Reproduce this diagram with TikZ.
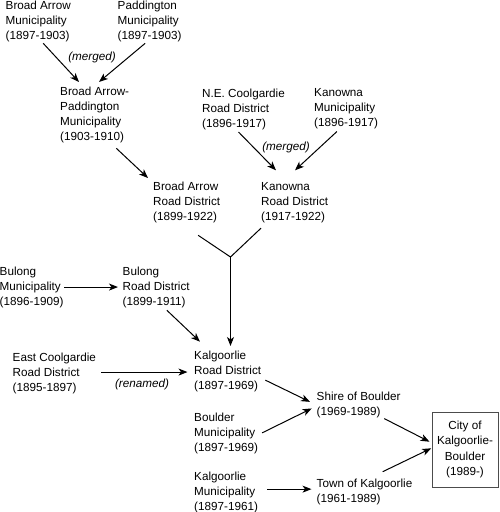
\documentclass[tikz,border=0pt]{standalone}
\usepackage{fontspec}
\setmainfont{Liberation Sans}
\usetikzlibrary{arrows.meta}
\tikzset{
  body/.style = {anchor = north west, align = left, inner sep = 0pt,
                 font = \fontsize{11.7}{15}\selectfont},
  note/.style = {inner sep = 0pt, font = \fontsize{11.7}{15}\selectfont\itshape},
  arr/.style  = {-{Stealth[length = 9pt, width = 7pt, inset = 2.5pt]}, line width = 1pt},
}

\begin{document}
\begin{tikzpicture}[x = 1pt, y = -1pt]
  \useasboundingbox (0,0) rectangle (499,512);
  % bodies
  \foreach \id/\x/\y/\txt in {
    bam/5.5/0.7/Broad Arrow\\Municipality\\(1897-1903),
    pad/117.5/0.7/Paddington\\Municipality\\(1897-1903),
    bap/60/86.7/Broad Arrow-\\Paddington\\Municipality\\(1903-1910),
    necrd/202/88.7/N.E. Coolgardie\\Road District\\(1896-1917),
    kanm/314/88.7/Kanowna\\Municipality\\(1896-1917),
    bard/153/181.7/Broad Arrow\\Road District\\(1899-1922),
    krd/261/182/Kanowna\\Road District\\(1917-1922),
    bulm/-0.5/266.4/Bulong\\Municipality\\(1896-1909),
    bulrd/122.5/266.4/Bulong\\Road District\\(1899-1911),
    ecrd/12.5/352.4/East Coolgardie\\Road District\\(1895-1897),
    krd2/194/350.7/Kalgoorlie\\Road District\\(1897-1969),
    shire/316.5/391.7/Shire of Boulder\\(1969-1989),
    boum/194/412.7/Boulder\\Municipality\\(1897-1969),
    kalm/194/471.7/Kalgoorlie\\Municipality\\(1897-1961),
    town/316.5/478.4/Town of Kalgoorlie\\(1961-1989)} {
    \node [body] (\id) at (\x,\y) {\txt};
  }
  \node [draw = black!70, line width = 1pt, minimum width = 66pt, minimum height = 75pt,
         align = center, inner sep = 0pt, font = \fontsize{11.7}{15.3}\selectfont]
        (city) at (465,449.5) {City of\\Kalgoorlie-\\Boulder\\(1989-)};

  % notes
  \node [note] (merge1) at (92,57) {(merged)};
  \node [note] (merge2) at (286,147) {(merged)};
  \node [note] (ren) at (142,384) {(renamed)};

  % links
  \draw [arr] ([xshift = 5pt, yshift = -1.3pt] bam.south) -- ([xshift = 19pt, yshift = 4.7pt] bap.north west);
  \draw [arr] ([xshift = -4.4pt, yshift = -1.3pt] pad.south) -- ([xshift = 39pt, yshift = 4.7pt] bap.north west);
  \draw [arr] ([xshift = -13pt, yshift = -5.3pt] bap.south east) -- ([xshift = -5pt, yshift = 3.7pt] bard.north west);
  \draw [arr] ([xshift = -5pt, yshift = -2pt] necrd.south) -- ([xshift = 15pt, yshift = 11.7pt] krd.north west);
  \draw [arr] ([xshift = -9.2pt, yshift = -2pt] kanm.south) -- ([xshift = 34pt, yshift = 11.7pt] krd.north west);

  \coordinate (join) at (230.5,257);
  \draw [line width = 1pt] ([xshift = 11.5pt, yshift = -12.3pt] bard.south) -- (join)
    -- ([yshift = -5.3pt] krd.south west);
  \draw [arr] (join) -- ([yshift = 4.7pt] join |- krd2.north);

  \draw [arr] ([xshift = 0.5pt] bulm.east) -- ([xshift = -4.5pt] bulm.east -| bulrd.west);
  \draw [arr] ([xshift = 10.7pt, yshift = -2.6pt] bulrd.south) -- ([xshift = 6pt, yshift = 9pt] krd2.north west);
  \draw [arr] ([xshift = 5pt, yshift = 1pt] ecrd.east) -- ([xshift = -6.5pt, yshift = 1pt] ecrd.east -| krd2.west);

  \draw [arr] ([xshift = 4pt, yshift = -8.8pt] krd2.east) -- ([xshift = -6.5pt, yshift = 3pt] shire.west);
  \draw [arr] ([xshift = 4pt, yshift = 0.5pt] boum.east) -- ([xshift = -4.8pt, yshift = -3.6pt] shire.west);
  \draw [arr] ([xshift = 9.3pt, yshift = 3.2pt] kalm.east) -- ([xshift = -5pt, yshift = 3.2pt] kalm.east -| town.west);
  \draw [arr] ([xshift = 25.6pt, yshift = -0.6pt] shire.south) -- ([xshift = -2pt, yshift = 7.8pt] city.west);
  \draw [arr] ([xshift = 18.2pt, yshift = 6.7pt] town.north) -- ([xshift = -0.3pt, yshift = 1.2pt] city.west);
\end{tikzpicture}
\end{document}
